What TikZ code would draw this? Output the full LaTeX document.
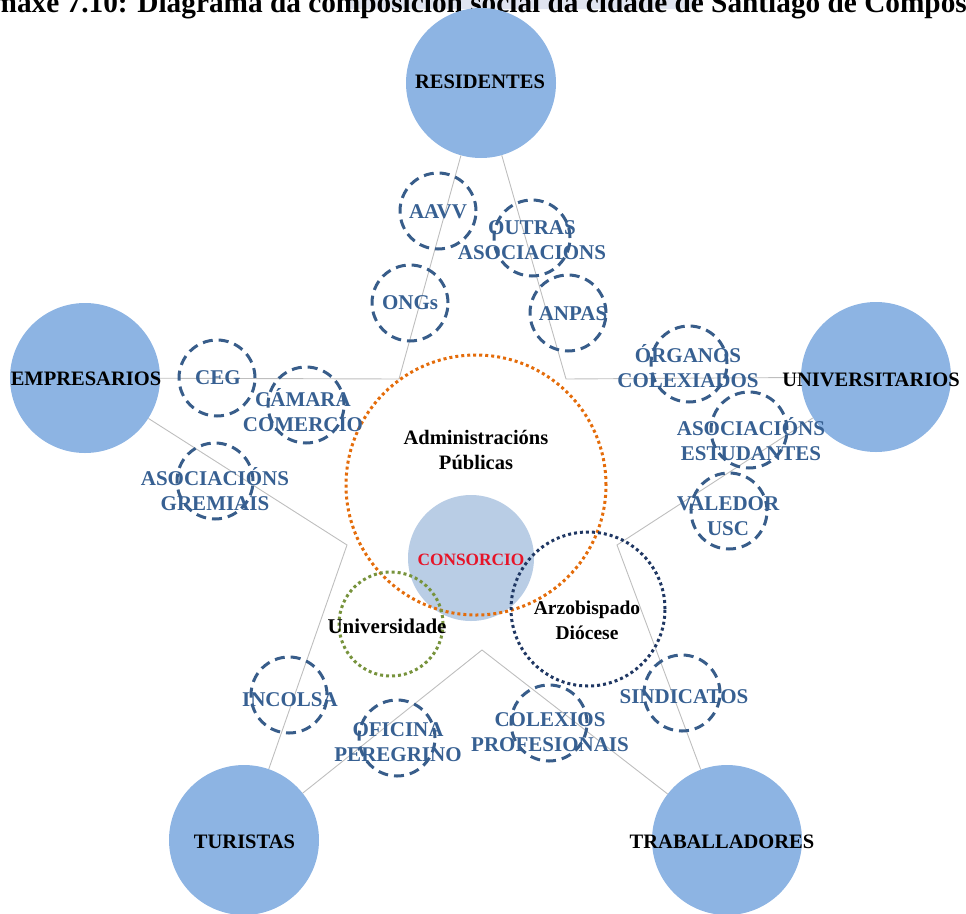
\documentclass[tikz,border=0pt]{standalone}
\usepackage{fontspec}
\setmainfont{Liberation Serif}
\definecolor{bigblue}{RGB}{141,180,227}
\definecolor{consfill}{RGB}{185,205,229}
\definecolor{orgline}{RGB}{56,93,138}
\definecolor{orgtext}{RGB}{55,96,146}
\definecolor{linegray}{RGB}{190,190,190}
\definecolor{admorange}{RGB}{228,108,10}
\definecolor{unigreen}{RGB}{119,147,60}
\definecolor{arznavy}{RGB}{31,55,99}
\definecolor{consred}{RGB}{230,20,40}
\definecolor{bandcol}{RGB}{224,228,240}
\begin{document}
\begin{tikzpicture}[x=1pt,y=-1pt,
  big/.style={circle, fill=bigblue, minimum size=150pt, inner sep=0pt},
  biglabel/.style={font=\fontsize{20.5}{24}\selectfont\bfseries, text=black, inner sep=0pt},
  org/.style={circle, draw=orgline, line width=3pt, dash pattern=on 10pt off 6pt, minimum size=76pt, inner sep=0pt},
  orglabel/.style={font=\fontsize{21}{25}\selectfont\bfseries, text=orgtext, align=center, inner sep=0pt},
  midlabel/.style={font=\fontsize{20.5}{25}\selectfont\bfseries, text=black, align=center, inner sep=0pt},
  dotring/.style={circle, line width=3pt, dash pattern=on 3pt off 3pt, inner sep=0pt},
  link/.style={draw=linegray, line width=0.9pt}]
\useasboundingbox (0,0) rectangle (966,913);
% title band and title
\fill[bandcol] (345,0) -- (702,0) -- (696,9) -- (349,9) -- cycle;
\node[anchor=base west, font=\fontsize{29.3}{35}\selectfont\bfseries, inner sep=0pt] (title) at (-19,12.5) {Imaxe 7.10: Diagrama da composición social da cidade de Santiago de Compostela};
% corner points
\coordinate (c1) at (399,379);
\coordinate (c2) at (566,379);
\coordinate (c3) at (617,545);
\coordinate (c4) at (482,650);
\coordinate (c5) at (347,545);
% big circles
\node[big] (res) at (481,83) {};
\node[big] (emp) at (85,378) {};
\node[big] (univ) at (876,377) {};
\node[big] (tur) at (244,840) {};
\node[big] (trab) at (727,840) {};
% links
\draw[link] (emp) -- (c1) -- (res);
\draw[link] (res) -- (c2) -- (univ);
\draw[link] (univ) -- (c3) -- (trab);
\draw[link] (trab) -- (c4) -- (tur);
\draw[link] (tur) -- (c5) -- (emp);
% big labels
\node[biglabel] (res-t) at (480,82) {RESIDENTES};
\node[biglabel] (emp-t) at (86,379) {EMPRESARIOS};
\node[biglabel] (univ-t) at (871,380) {UNIVERSITARIOS};
\node[biglabel] (tur-t) at (244.5,842) {TURISTAS};
\node[biglabel] (trab-t) at (722,842) {TRABALLADORES};
% centre
\node[circle, fill=consfill, minimum size=126pt, inner sep=0pt] (cons) at (471,558) {};
\node[dotring, draw=admorange, minimum size=260pt] (adm) at (476,485) {};
\node[dotring, draw=unigreen, minimum size=104pt] (unid) at (391,624) {};
\node[dotring, draw=arznavy, minimum size=154pt] (arz) at (588,609) {};
\node[midlabel] (adm-t) at (476,449.5) {Administracións\\Públicas};
\node[font=\fontsize{17.3}{20}\selectfont\bfseries, text=consred, inner sep=0pt] (cons-t) at (471,560) {CONSORCIO};
\node[midlabel, font=\fontsize{21}{25}\selectfont\bfseries] (unid-t) at (387,626) {Universidade};
\node[midlabel, font=\fontsize{19.5}{25}\selectfont\bfseries] (arz-t) at (587,620.5) {Arzobispado\\Diócese};
% organisations
\node[org] (aavv) at (438,211) {};
\node[org] (outras) at (532,238) {};
\node[org] (ongs) at (410,303) {};
\node[org] (anpas) at (568,313) {};
\node[org] (ceg) at (217,378) {};
\node[org] (camara) at (306,405) {};
\node[org] (gremiais) at (215,481) {};
\node[org] (organos) at (689,364) {};
\node[org] (estud) at (749,430) {};
\node[org] (valedor) at (729,511) {};
\node[org] (incolsa) at (289,695) {};
\node[org] (oficina) at (397,738) {};
\node[org] (colexios) at (549,723) {};
\node[org] (sindicatos) at (682,693) {};
\node[orglabel] (aavv-t) at (438,212) {AAVV};
\node[orglabel] (outras-t) at (532,240.5) {OUTRAS\\ASOCIACIONS};
\node[orglabel] (ongs-t) at (410,303) {ONGs};
\node[orglabel] (anpas-t) at (573,314) {ANPAS};
\node[orglabel] (ceg-t) at (218,378) {CEG};
\node[orglabel] (camara-t) at (303,410) {CÁMARA\\COMERCIO};
\node[orglabel] (gremiais-t) at (215,489) {ASOCIACIÓNS\\GREMIAIS};
\node[orglabel] (organos-t) at (688,366) {ÓRGANOS\\COLEXIADOS};
\node[orglabel] (estud-t) at (751,439) {ASOCIACIÓNS\\ESTUDANTES};
\node[orglabel] (valedor-t) at (728,516.5) {VALEDOR\\USC};
\node[orglabel] (incolsa-t) at (290,700) {INCOLSA};
\node[orglabel] (oficina-t) at (398,742.5) {OFICINA\\PEREGRINO};
\node[orglabel] (colexios-t) at (550,732.5) {COLEXIOS\\PROFESIONAIS};
\node[orglabel] (sindicatos-t) at (684,697) {SINDICATOS};
\end{tikzpicture}
\end{document}
